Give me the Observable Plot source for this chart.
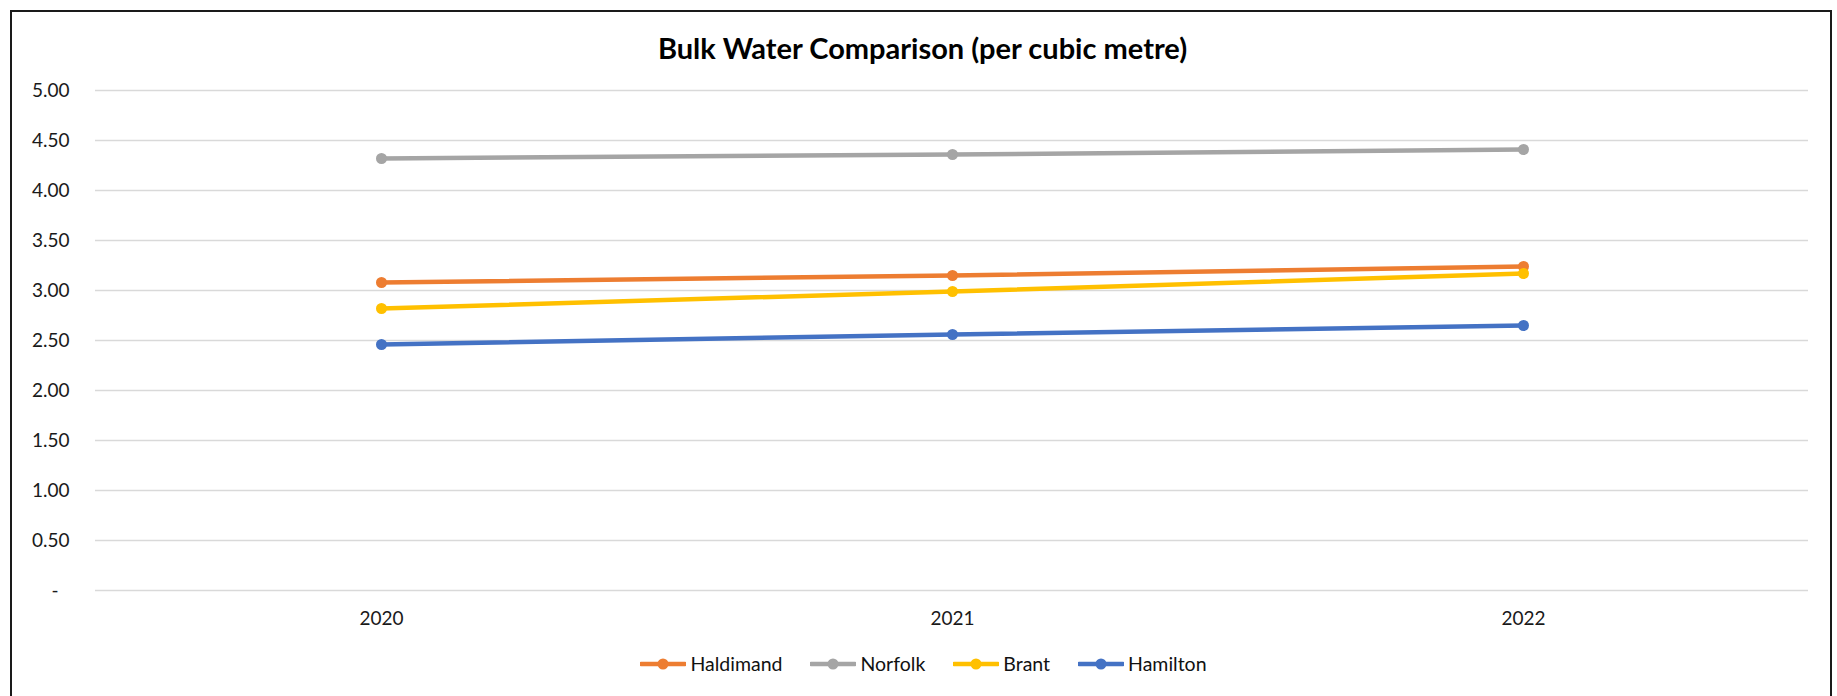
<!DOCTYPE html>
<html>
<head>
<meta charset="utf-8">
<script src="https://cdn.jsdelivr.net/npm/d3@7"></script>
<script src="https://cdn.jsdelivr.net/npm/@observablehq/plot@0.6"></script>
<style>
  html, body { margin: 0; padding: 0; background: #fff; }
  body { width: 1837px; height: 696px; position: relative; overflow: hidden; font-family: Lato, "Open Sans", sans-serif; }
  #frame { position: absolute; left: 10px; top: 10px; width: 1822px; height: 720px; border: 2px solid #1a1a1a; box-sizing: border-box; }
  #title { position: absolute; left: 0; width: 1845px; top: 30px; text-align: center; font-weight: 700; font-size: 29px; color: #000; line-height: 36px; }
  #chart { position: absolute; left: 0; top: 70px; }
  #legend { position: absolute; left: 0; width: 1847px; top: 652px; display: flex; justify-content: center; gap: 28px; font-size: 19.5px; color: #111; line-height: 24px; }
  .item { display: flex; align-items: center; }
  .item svg { margin-right: 4px; }
</style>
</head>
<body>
<div id="frame"></div>
<div id="title">Bulk Water Comparison (per cubic metre)</div>
<div id="chart"></div>
<div id="legend"></div>
<script>
const years = ["2020", "2021", "2022"];
const seriesNames = ["Haldimand", "Norfolk", "Brant", "Hamilton"];
const seriesColors = ["#ED7D31", "#A5A5A5", "#FFC000", "#4472C4"];
const haldimand = [3.08, 3.15, 3.24];
const norfolk = [4.32, 4.36, 4.41];
const brant = [2.82, 2.99, 3.17];
const hamilton = [2.46, 2.56, 2.65];
const yTicks = [0, 0.5, 1, 1.5, 2, 2.5, 3, 3.5, 4, 4.5, 5];

const seriesValues = [haldimand, norfolk, brant, hamilton];
const data = seriesNames.flatMap((s, i) => years.map((y, j) => ({series: s, year: y, value: seriesValues[i][j]})));

const fmt = d => d === 0 ? "-\u2007" : d.toFixed(2);

const marks = [
  Plot.ruleY(yTicks, {stroke: "#d9d9d9", strokeWidth: 1.5}),
  Plot.axisY({ticks: yTicks, tickSize: 0, tickPadding: 26, tickFormat: fmt, label: null}),
  Plot.axisX({tickSize: 0, tickPadding: 21, label: null})
];
for (const s of seriesNames) {
  const d = data.filter(r => r.series === s);
  marks.push(Plot.line(d, {x: "year", y: "value", stroke: "series", strokeWidth: 4.5}));
  marks.push(Plot.dot(d, {x: "year", y: "value", fill: "series", r: 5.5}));
}

const chart = Plot.plot({
  width: 1837,
  height: 560,
  marginLeft: 95,
  marginRight: 29,
  marginTop: 20,
  marginBottom: 40,
  style: {fontFamily: "Lato, 'Open Sans', sans-serif", fontSize: "19px", color: "#1a1a1a", background: "transparent"},
  x: {type: "point", domain: years, padding: 0.5},
  y: {domain: [0, 5]},
  color: {domain: seriesNames, range: seriesColors},
  marks
});
document.getElementById("chart").appendChild(chart);

const legend = document.getElementById("legend");
seriesNames.forEach((s, i) => {
  const item = document.createElement("div");
  item.className = "item";
  item.innerHTML = `<svg width="46" height="14"><line x1="1" x2="45" y1="7" y2="7" stroke="${seriesColors[i]}" stroke-width="4.5" stroke-linecap="round"/><circle cx="23" cy="7" r="5.5" fill="${seriesColors[i]}"/></svg><span>${s}</span>`;
  legend.appendChild(item);
});
</script>
</body>
</html>
